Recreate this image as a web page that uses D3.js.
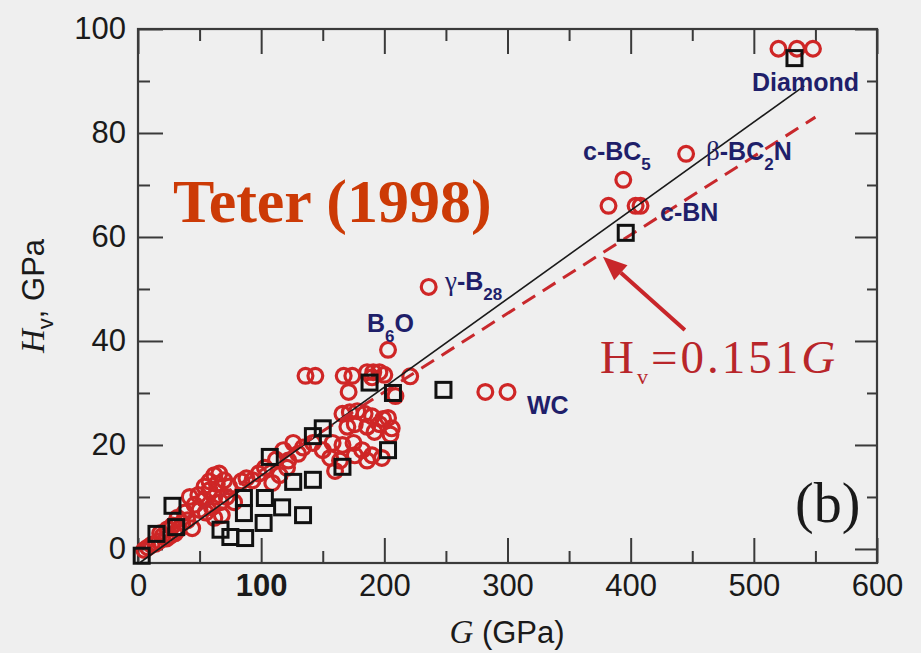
<!DOCTYPE html>
<html>
<head>
<meta charset="utf-8">
<script src="https://cdn.jsdelivr.net/npm/d3@7"></script>
<style>
  html, body { margin: 0; padding: 0; background: #efefef; }
  svg { display: block; }
</style>
</head>
<body>
<svg id="chart" width="921" height="653"></svg>
<script>
// Vickers hardness Hv (GPa) against shear modulus G (GPa)

// Open red circles: [G, Hv]
const circlePoints = [
  [520, 96.2], [535, 96.2], [548, 96.2],
  [445, 76], [394, 71], [382, 66], [404, 66], [408, 66],
  [236, 50.4], [203, 38.3], [282, 30.2], [300, 30.2],
  [136, 33.3], [144, 33.3], [167, 33.3], [174, 33.3], [186, 34], [191, 34], [196, 34], [200, 33.5], [221, 33.2],
  [171, 30.2], [209, 29.4], [190, 33],
  [166, 26], [172, 26.3], [178, 26.5], [184, 26], [190, 25.5], [186, 23.5], [192, 22.5], [199, 25], [206, 23.2],
  [176, 24], [170, 23.5], [196, 24], [203, 25.2],
  [142, 20.4], [150, 19], [158, 20.4], [166, 20], [175, 20.4], [182, 19], [156, 17.5], [164, 17], [176, 18],
  [190, 18], [186, 17], [198, 17.5], [205, 22],
  [126, 20.4], [134, 19.5], [130, 18.3], [118, 19], [122, 17], [112, 17.2],
  [160, 15], [121, 15.6], [103, 15.6], [109, 12.7], [115, 14.2], [88, 13.6], [93, 13.2], [98, 14.5], [84, 13],
  [54, 12], [58, 13], [62, 14.2], [66, 14.5], [70, 13.2], [64, 12.5], [74, 12],
  [58, 11.3], [62, 10], [54, 9.5], [49, 10.4], [42, 10], [46, 8.5], [50, 7.5], [55, 7], [60, 8], [67, 9], [72, 10],
  [78, 9], [68, 6.5], [62, 6],
  [40, 5.5], [36, 5], [44, 4], [33, 3.8], [30, 3], [28, 4.5], [26, 2.5], [23, 2], [20, 2.5], [17, 1.5], [14, 1],
  [11, 0.8], [8, 0.3], [5, -0.2], [18, 3], [24, 3.8], [32, 6], [38, 7]
];

// Open black squares: [G, Hv]
const squarePoints = [
  [3, -1.3], [15, 2.9], [31, 4.2], [28, 8.3], [67, 3.7], [75, 2.3], [87, 2.1], [86, 6.9], [86, 9.8],
  [102, 5], [103, 9.8], [117, 8], [134, 6.5], [126, 12.9], [142, 13.3], [107, 17.7], [142, 21.7],
  [150, 23.2], [166, 15.8], [203, 19], [188, 32], [207, 30], [248, 30.6], [396, 60.8], [533, 94.4]
];

// Least-squares fit (solid) and Teter's relation Hv = 0.151 G (dashed)
const fitLine = { slope: 0.170, intercept: -2.9, from: 2, to: 541 };
const teterLine = { slope: 0.151, intercept: 0, from: 0, to: 550 };

const xMajorTicks = [0, 100, 200, 300, 400, 500, 600];
const xMinorTicks = [50, 150, 250, 350, 450, 550];
const yMajorTicks = [0, 20, 40, 60, 80, 100];
const yMinorTicks = [10, 30, 50, 70, 90];

const svg = d3.select("#chart");
const W = 921, H = 653;
const frame = { left: 138, right: 877, top: 29, bottom: 563 };

svg.append("rect").attr("width", W).attr("height", H).attr("fill", "#efefef");

const x = d3.scaleLinear().domain([0, 600]).range([frame.left, frame.right]);
const y = d3.scaleLinear().domain([-2.7, 100]).range([frame.bottom, frame.top]);

const axisColor = "#3a3a3a";
const sans = "'Liberation Sans', Arial, Helvetica, sans-serif";
const serif = "'Liberation Serif', 'Times New Roman', serif";
const MAJOR = 25, MINOR = 12;

function styleAxis(g) {
  g.select(".domain").remove();
  g.selectAll(".tick line").attr("stroke", axisColor).attr("stroke-width", 2);
  g.selectAll(".tick text").attr("fill", "#1a1a1a").style("font-family", sans).style("font-size", "31px");
}

// Bottom axis (ticks point inward)
svg.append("g").attr("transform", `translate(0,${frame.bottom})`)
  .call(d3.axisBottom(x).tickValues(xMajorTicks).tickSizeInner(-MAJOR).tickSizeOuter(0).tickPadding(11))
  .call(styleAxis)
  .call(g => g.selectAll(".tick text").filter(d => d === 100).style("font-weight", "bold"));
svg.append("g").attr("transform", `translate(0,${frame.bottom})`)
  .call(d3.axisBottom(x).tickValues(xMinorTicks).tickSizeInner(-MINOR).tickSizeOuter(0).tickFormat(""))
  .call(styleAxis);

// Top axis
svg.append("g").attr("transform", `translate(0,${frame.top})`)
  .call(d3.axisTop(x).tickValues(xMajorTicks).tickSizeInner(-MAJOR).tickSizeOuter(0).tickFormat(""))
  .call(styleAxis);
svg.append("g").attr("transform", `translate(0,${frame.top})`)
  .call(d3.axisTop(x).tickValues(xMinorTicks).tickSizeInner(-MINOR).tickSizeOuter(0).tickFormat(""))
  .call(styleAxis);

// Left axis
svg.append("g").attr("transform", `translate(${frame.left},0)`)
  .call(d3.axisLeft(y).tickValues(yMajorTicks).tickSizeInner(-MAJOR).tickSizeOuter(0).tickPadding(12))
  .call(styleAxis);
svg.append("g").attr("transform", `translate(${frame.left},0)`)
  .call(d3.axisLeft(y).tickValues(yMinorTicks).tickSizeInner(-MINOR).tickSizeOuter(0).tickFormat(""))
  .call(styleAxis);

// Right axis
svg.append("g").attr("transform", `translate(${frame.right},0)`)
  .call(d3.axisRight(y).tickValues(yMajorTicks).tickSizeInner(-MAJOR + 3).tickSizeOuter(0).tickFormat(""))
  .call(styleAxis);
svg.append("g").attr("transform", `translate(${frame.right},0)`)
  .call(d3.axisRight(y).tickValues(yMinorTicks).tickSizeInner(-MINOR + 2).tickSizeOuter(0).tickFormat(""))
  .call(styleAxis);

// Frame
svg.append("rect")
  .attr("x", frame.left).attr("y", frame.top)
  .attr("width", frame.right - frame.left).attr("height", frame.bottom - frame.top)
  .attr("fill", "none").attr("stroke", axisColor).attr("stroke-width", 2.2);

// Clip for the lines
svg.append("clipPath").attr("id", "plotClip").append("rect")
  .attr("x", frame.left).attr("y", frame.top)
  .attr("width", frame.right - frame.left).attr("height", frame.bottom - frame.top);

const lineGen = d3.line().x(d => x(d[0])).y(d => y(d[1]));
const linePts = l => [[l.from, l.slope * l.from + l.intercept], [l.to, l.slope * l.to + l.intercept]];

// Scatter: circles
const red = "#cf2626";
svg.append("g").selectAll("circle").data(circlePoints).join("circle")
  .attr("cx", d => x(d[0])).attr("cy", d => y(d[1])).attr("r", 7.4)
  .attr("fill", "none").attr("stroke", red).attr("stroke-width", 3.2);

// Lines
svg.append("path").attr("clip-path", "url(#plotClip)")
  .attr("d", lineGen(linePts(fitLine)))
  .attr("fill", "none").attr("stroke", "#1a1a1a").attr("stroke-width", 1.6);
svg.append("path").attr("clip-path", "url(#plotClip)")
  .attr("d", lineGen(linePts(teterLine)))
  .attr("fill", "none").attr("stroke", "#c8282c").attr("stroke-width", 3)
  .attr("stroke-dasharray", "15,9");

// Scatter: squares
const sq = 15;
svg.append("g").selectAll("rect").data(squarePoints).join("rect")
  .attr("x", d => x(d[0]) - sq / 2).attr("y", d => y(d[1]) - sq / 2)
  .attr("width", sq).attr("height", sq)
  .attr("fill", "none").attr("stroke", "#111").attr("stroke-width", 3);

// Material labels
const navy = "#1f1f6a";
function label(txt, px, py, sub, rest, opts = {}) {
  const t = svg.append("text").attr("x", px).attr("y", py)
    .style("font-family", sans).style("font-size", "25px").style("font-weight", "bold")
    .attr("fill", navy);
  if (opts.greek) {
    t.append("tspan").text(opts.greek).style("font-weight", "normal").style("font-family", serif).style("font-size", "27px");
  }
  t.append("tspan").text(txt);
  if (sub) t.append("tspan").text(sub).attr("dy", 10).style("font-size", "17px");
  if (rest) t.append("tspan").text(rest).attr("dy", -10);
  return t;
}
label("Diamond", 752, 91);
label("c-BC", 583, 160, "5");
label("-BC", 720, 160, "2", "N", { greek: "\u03B2" }).attr("x", 706);
label("c-BN", 660, 221);
label("-B", 445, 290, "28", null, { greek: "\u03B3" });
label("B", 367, 332, "6", "O");
label("WC", 527, 414);

// Title annotation
svg.append("text").attr("x", 173).attr("y", 222)
  .style("font-family", serif).style("font-size", "62px").style("font-weight", "bold")
  .attr("fill", "#cc3a06").text("Teter (1998)");

// Hv = 0.151 G annotation with arrow
const eq = svg.append("text").attr("x", 600).attr("y", 373)
  .style("font-family", serif).style("font-size", "47px").attr("fill", "#b8262a")
  .style("letter-spacing", "3px");
eq.append("tspan").text("H");
eq.append("tspan").text("v").attr("dy", 11).style("font-size", "22px");
eq.append("tspan").text("=0.151").attr("dy", -11);
eq.append("tspan").text("G").style("font-style", "italic");

const arrowTail = [444, 42.1], arrowTip = [377.5, 56.2];
const tx = x(arrowTail[0]), ty = y(arrowTail[1]);
const hx = x(arrowTip[0]), hy = y(arrowTip[1]);
const ang = Math.atan2(hy - ty, hx - tx);
const headLen = 24, headW = 10;
const bx = hx - headLen * Math.cos(ang), by = hy - headLen * Math.sin(ang);
svg.append("line").attr("x1", tx).attr("y1", ty).attr("x2", bx).attr("y2", by)
  .attr("stroke", "#c8262a").attr("stroke-width", 4);
svg.append("path")
  .attr("d", `M${hx},${hy} L${bx + headW * Math.sin(ang)},${by - headW * Math.cos(ang)} L${bx - headW * Math.sin(ang)},${by + headW * Math.cos(ang)} Z`)
  .attr("fill", "#c8262a");

// Panel tag
svg.append("text").attr("x", 795).attr("y", 522)
  .style("font-family", serif).style("font-size", "56px").attr("fill", "#1a1a1a").text("(b)");

// Axis titles
const xt = svg.append("text").attr("x", 507).attr("y", 643).attr("text-anchor", "middle")
  .style("font-family", sans).style("font-size", "31px").attr("fill", "#1a1a1a");
xt.append("tspan").text("G").style("font-family", serif).style("font-style", "italic").style("font-size", "33px");
xt.append("tspan").text(" (GPa)");

const yt = svg.append("text").attr("transform", "translate(44,296) rotate(-90)").attr("text-anchor", "middle")
  .style("font-family", sans).style("font-size", "31px").attr("fill", "#1a1a1a");
yt.append("tspan").text("H").style("font-family", serif).style("font-style", "italic").style("font-size", "33px");
yt.append("tspan").text("v").attr("dy", 9).style("font-size", "22px");
yt.append("tspan").text(", GPa").attr("dy", -9);
</script>
</body>
</html>
